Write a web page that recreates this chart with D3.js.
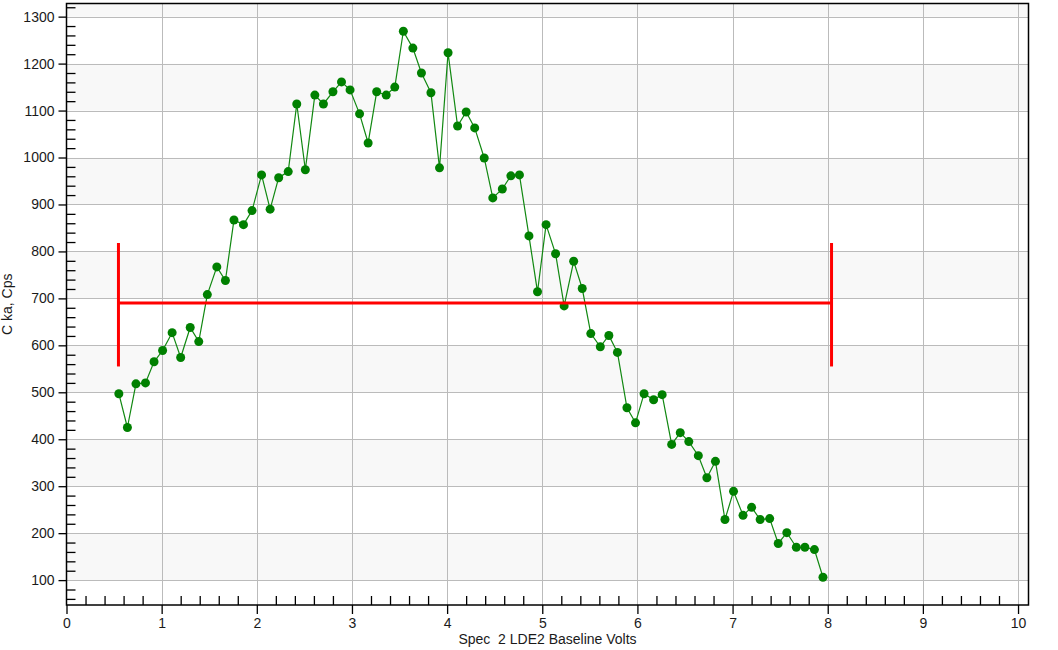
<!DOCTYPE html>
<html>
<head>
<meta charset="utf-8">
<script src="https://cdn.jsdelivr.net/npm/d3@7"></script>
<style>
  body { margin: 0; background: #fff; }
  text { font-family: "Liberation Sans", Arial, sans-serif; fill: #1a1a1a; }
</style>
</head>
<body>
<svg width="1058" height="650"></svg>
<script>
// data
let volts = [
  0.55, 0.64, 0.73, 0.83, 0.92, 1.01, 1.11, 1.20, 1.30, 1.39,
  1.48, 1.58, 1.67, 1.76, 1.86, 1.95, 2.05, 2.14, 2.23, 2.33,
  2.42, 2.51, 2.61, 2.70, 2.80, 2.89, 2.98, 3.08, 3.17, 3.26,
  3.36, 3.45, 3.54, 3.64, 3.73, 3.83, 3.92, 4.01, 4.11, 4.20,
  4.29, 4.39, 4.48, 4.58, 4.67, 4.76, 4.86, 4.95, 5.04, 5.14,
  5.23, 5.33, 5.42, 5.51, 5.61, 5.70, 5.79, 5.89, 5.98, 6.07,
  6.17, 6.26, 6.36, 6.45, 6.54, 6.64, 6.73, 6.82, 6.92, 7.01,
  7.11, 7.20, 7.29, 7.39, 7.48, 7.57, 7.67, 7.76, 7.86, 7.95
];
let counts = [
  497, 425, 518, 520, 565, 589, 627, 574, 638, 608,
  708, 767, 738, 867, 857, 887, 963, 890, 957, 970,
  1114, 974, 1133, 1114, 1140, 1161, 1144, 1093, 1031, 1140,
  1133, 1150, 1269, 1233, 1180, 1138, 978, 1223, 1067, 1097,
  1063, 999, 914, 933, 961, 963, 833, 714, 857, 795,
  684, 779, 721, 625, 597, 621, 585, 467, 435, 497,
  484, 495, 389, 414, 395, 365, 318, 353, 229, 289,
  238, 255, 229, 231, 178, 201, 170, 170, 165, 106
];
let xTicks = [0, 1, 2, 3, 4, 5, 6, 7, 8, 9, 10];
let yTicks = [100, 200, 300, 400, 500, 600, 700, 800, 900, 1000, 1100, 1200, 1300];
// red range marker: level, bar ends, start/end
let rangeLevel = 690, rangeLow = 555, rangeHigh = 818;
let rangeStart = 0.546, rangeEnd = 8.04;

let svg = d3.select("svg"),
    plotL = 66.5, plotR = 1028.5, plotT = 3.5, plotB = 605;

let x = d3.scaleLinear().domain([0, 10.11]).range([plotL, plotR]);
let y = d3.scaleLinear().domain([47, 1328]).range([plotB, plotT]);

// alternating bands
let bands = [[47, 100, "#fff"]];
for (let i = 0; i < yTicks.length; i++) {
  let hi = i + 1 < yTicks.length ? yTicks[i + 1] : 1328;
  bands.push([yTicks[i], hi, i % 2 == 0 ? "#f8f8f8" : "#fff"]);
}
svg.append("g").selectAll("rect").data(bands).enter().append("rect")
    .attr("x", plotL)
    .attr("width", plotR - plotL)
    .attr("y", function(d) { return y(d[1]); })
    .attr("height", function(d) { return y(d[0]) - y(d[1]); })
    .attr("fill", function(d) { return d[2]; });

// grid
let grid = svg.append("g").attr("stroke", "#bbbbbb").attr("stroke-width", 1);
grid.selectAll(".gx").data(xTicks.slice(1)).enter().append("line")
    .attr("x1", function(d) { return Math.round(x(d)) + 0.5; })
    .attr("x2", function(d) { return Math.round(x(d)) + 0.5; })
    .attr("y1", plotT).attr("y2", plotB);
grid.selectAll(".gy").data(yTicks).enter().append("line")
    .attr("y1", function(d) { return Math.round(y(d)) + 0.5; })
    .attr("y2", function(d) { return Math.round(y(d)) + 0.5; })
    .attr("x1", plotL).attr("x2", plotR);

// frame
svg.append("rect")
    .attr("x", plotL).attr("y", plotT)
    .attr("width", plotR - plotL).attr("height", plotB - plotT)
    .attr("fill", "none").attr("stroke", "#000").attr("stroke-width", 1.5);

// axes
let xAxis = d3.axisBottom(x).tickValues(xTicks).tickSize(9).tickPadding(4).tickFormat(d3.format("d"));
let xg = svg.append("g").attr("transform", "translate(0," + plotB + ")").call(xAxis);
xg.select(".domain").remove();
xg.selectAll("text").attr("font-size", 14).attr("fill", "#1a1a1a");

let xMinor = d3.range(1, 51).filter(function(i) { return i % 5 != 0; }).map(function(i) { return i / 5; });
let xMinorAxis = d3.axisTop(x).tickValues(xMinor).tickSize(9).tickFormat("");
svg.append("g").attr("transform", "translate(0," + plotB + ")").call(xMinorAxis).select(".domain").remove();

let yAxis = d3.axisLeft(y).tickValues(yTicks).tickSize(8).tickPadding(4).tickFormat(d3.format("d"));
let yg = svg.append("g").attr("transform", "translate(" + plotL + ",0)").call(yAxis);
yg.select(".domain").remove();
yg.selectAll("text").attr("font-size", 14).attr("fill", "#1a1a1a");

let yMinor = d3.range(60, 1328, 20).filter(function(v) { return v % 100 != 0; });
let yMinorAxis = d3.axisRight(y).tickValues(yMinor).tickSize(9).tickFormat("");
svg.append("g").attr("transform", "translate(" + plotL + ",0)").call(yMinorAxis).select(".domain").remove();

svg.selectAll(".tick line").attr("stroke", "#000").attr("stroke-width", 1.3);

// axis titles
svg.append("text")
    .attr("x", (plotL + plotR) / 2)
    .attr("y", 644)
    .attr("text-anchor", "middle")
    .attr("font-size", 14)
    .style("white-space", "pre")
    .text("Spec  2 LDE2 Baseline Volts");

svg.append("text")
    .attr("transform", "translate(12," + ((plotT + plotB) / 2) + ") rotate(-90)")
    .attr("text-anchor", "middle")
    .attr("font-size", 14)
    .text("C ka, Cps");

// series
let line = d3.line()
  .x(function(d, i) { return x(volts[i]); })
  .y(function(d) { return y(d); });

svg.append("path")
    .datum(counts)
    .attr("d", line)
    .attr("fill", "none")
    .attr("stroke", "#118811")
    .attr("stroke-width", 1.2);

svg.append("g").selectAll("circle").data(counts).enter().append("circle")
    .attr("cx", function(d, i) { return x(volts[i]); })
    .attr("cy", function(d) { return y(d); })
    .attr("r", 4.5)
    .attr("fill", "#008000");

// red range marker
let red = svg.append("g").attr("stroke", "#ff0000").attr("stroke-width", 3);
red.append("line")
    .attr("x1", x(rangeStart)).attr("x2", x(rangeEnd))
    .attr("y1", y(rangeLevel)).attr("y2", y(rangeLevel));
[rangeStart, rangeEnd].forEach(function(v) {
  red.append("line")
      .attr("x1", x(v)).attr("x2", x(v))
      .attr("y1", y(rangeHigh)).attr("y2", y(rangeLow));
});
</script>
</body>
</html>
